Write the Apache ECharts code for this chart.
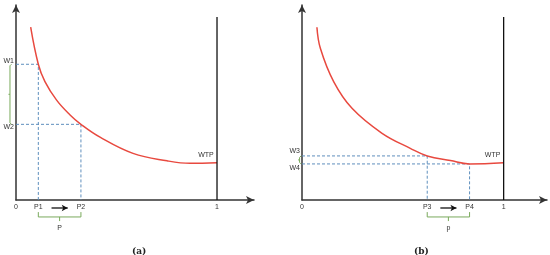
<!DOCTYPE html>
<html>
<head>
<meta charset="utf-8">
<script src="https://cdn.jsdelivr.net/npm/echarts@6/dist/echarts.min.js"></script>
<style>
  html, body { margin: 0; padding: 0; background: #fff; }
  #main { width: 550px; height: 255px; }
</style>
</head>
<body>
<div id="main"></div>
<script>
// WTP curve, panel (a) and (b) (x: 0..1, y: 0..1 of axis height)
const curveA = [[0.073,0.886],[0.111,0.696],[0.144,0.607],[0.202,0.512],[0.269,0.436],[0.323,0.388],
  [0.418,0.322],[0.582,0.239],[0.751,0.201],[0.866,0.188],[1.0,0.191]];
const curveB = [[0.074,0.886],[0.091,0.778],[0.157,0.607],[0.248,0.470],[0.397,0.342],
  [0.537,0.265],[0.621,0.226],[0.736,0.202],[0.831,0.185],[1.0,0.191]];

// marked points [p, w]
const pointsA = [[0.111, 0.696], [0.323, 0.388]];
const pointsB = [[0.621, 0.226], [0.831, 0.185]];

const xTicksA = [0, 0.111, 0.323, 1];
const xLabelsA = ['0', 'P1', 'P2', '1'];
const xTicksB = [0, 0.621, 0.831, 1];
const xLabelsB = ['0', 'P3', 'P4', '1'];
const yTicksA = [0.696, 0.388];
const yLabelsA = ['{up|W1}', '{dn|W2}'];
const yTicksB = [0.226, 0.185];
const yLabelsB = ['{up2|W3}', '{dn2|W4}'];

const wallTop = 0.938;
const bracketLabelA = 'P';
const bracketLabelB = 'p';

const font = 'Liberation Sans';
const axisColor = '#333';
const red = '#e8493f';
const blue = '#5e8fbd';
const green = '#7aaa5c';

function xAxisOf(idx, max, ticks, labels) {
  return {
    type: 'value', gridIndex: idx, min: 0, max: max,
    splitLine: { show: false },
    axisTick: { show: false },
    axisLine: { lineStyle: { color: axisColor, width: 1.5 }, symbol: ['none', 'arrow'], symbolSize: [6, 8] },
    axisLabel: {
      customValues: ticks, margin: 4, fontSize: 7, color: axisColor, fontFamily: font,
      formatter: v => labels[ticks.indexOf(v)]
    }
  };
}

function yAxisOf(idx, ticks, labels) {
  return {
    type: 'value', gridIndex: idx, min: 0, max: 1,
    splitLine: { show: false },
    axisTick: { show: false },
    axisLine: { lineStyle: { color: axisColor, width: 1.5 }, symbol: ['none', 'arrow'], symbolSize: [6, 8] },
    axisLabel: {
      customValues: ticks, margin: 2, fontSize: 7, color: axisColor, fontFamily: font,
      formatter: v => labels[ticks.indexOf(v)],
      rich: {
        up: { fontSize: 7, fontFamily: font, color: axisColor, padding: [0, 0, 6, 0] },
        dn: { fontSize: 7, fontFamily: font, color: axisColor, padding: [6, 0, 0, 0] },
        up2: { fontSize: 7, fontFamily: font, color: axisColor, padding: [0, 0, 10, 0] },
        dn2: { fontSize: 7, fontFamily: font, color: axisColor, padding: [8, 0, 0, 0] }
      }
    }
  };
}

function panelSeries(idx, curve, pts, bracketLabel, sideX) {
  const s = [];
  const base = { xAxisIndex: idx, yAxisIndex: idx, type: 'line', showSymbol: false, silent: true, animation: false };
  const textStyle = { fontSize: 7, color: axisColor, fontFamily: font };
  // dashed guide lines
  pts.forEach(p => {
    s.push(Object.assign({}, base, {
      data: [[0, p[1]], [p[0], p[1]], [p[0], 0]],
      lineStyle: { color: blue, width: 1, type: [3, 2] }
    }));
  });
  // red curve
  s.push(Object.assign({}, base, {
    showSymbol: true, symbol: 'circle', symbolSize: 0,
    data: curve.map((d, i) => i === curve.length - 1 ? {
      value: d,
      label: Object.assign({ show: true, formatter: 'WTP', position: 'top', offset: [-11, 1] }, textStyle)
    } : d),
    smooth: 0.4,
    lineStyle: { color: red, width: 1.5 }
  }));
  // vertical wall at x = 1
  s.push(Object.assign({}, base, {
    data: [[1, 0], [1, wallTop]],
    lineStyle: { color: '#111', width: 1.3 }
  }));
  // arrow between the two P labels
  const p1 = pts[0][0], p2 = pts[1][0];
  const ay = -0.041;
  const a0 = p1 + (p2 - p1) * 0.31, a1 = p1 + (p2 - p1) * 0.69;
  s.push(Object.assign({}, base, {
    clip: false,
    data: [[a0, ay], { value: [a1, ay], symbol: 'arrow', symbolSize: [5, 6], symbolRotate: -90, itemStyle: { color: '#111' } }],
    showSymbol: true, symbol: 'none',
    lineStyle: { color: '#111', width: 1.3 }
  }));
  // green bracket under P's
  const b0 = -0.062, b1 = -0.087, b2 = -0.108;
  const mid = (p1 + p2) / 2;
  s.push(Object.assign({}, base, {
    clip: false,
    data: [[p1, b0], [p1, b1], [p2, b1], [p2, b0]],
    lineStyle: { color: green, width: 1 }
  }));
  s.push(Object.assign({}, base, {
    clip: false,
    showSymbol: true, symbol: 'circle', symbolSize: 0,
    data: [[mid, b1], {
      value: [mid, b2],
      label: Object.assign({ show: true, formatter: bracketLabel, position: 'bottom', distance: 4 }, textStyle)
    }],
    lineStyle: { color: green, width: 1 }
  }));
  // green bracket along the y axis between the W's
  s.push({
    type: 'custom', xAxisIndex: idx, yAxisIndex: idx, silent: true, clip: false, z: 5,
    data: [[sideX, pts[0][1], pts[1][1]]],
    encode: { x: 0, y: [1, 2] },
    renderItem: function (params, api) {
      const top = api.coord([api.value(0), api.value(1)]);
      const bot = api.coord([api.value(0), api.value(2)]);
      const my = (top[1] + bot[1]) / 2;
      return {
        type: 'group',
        children: [
          { type: 'polyline', shape: { points: [[top[0] + 1.5, top[1]], [top[0], top[1] + 1.5], [bot[0], bot[1] - 1.5], [bot[0] + 1.5, bot[1]]] },
            style: { stroke: green, lineWidth: 1, fill: null } },
          { type: 'line', shape: { x1: top[0], y1: my, x2: top[0] - 1.5, y2: my }, style: { stroke: green, lineWidth: 1 } }
        ]
      };
    }
  });
  return s;
}

const chart = echarts.init(document.getElementById('main'), null, { renderer: 'canvas' });
chart.setOption({
  backgroundColor: '#fff',
  animation: false,
  title: [
    { text: '(a)', left: 127, top: 242, textStyle: { fontSize: 9, fontWeight: 'bold', fontFamily: 'DejaVu Serif', color: '#222' } },
    { text: '(b)', left: 409, top: 242, textStyle: { fontSize: 9, fontWeight: 'bold', fontFamily: 'DejaVu Serif', color: '#222' } }
  ],
  grid: [
    { left: 16, top: 5, width: 238, height: 195, outerBoundsMode: 'none' },
    { left: 302, top: 5, width: 245, height: 195, outerBoundsMode: 'none' }
  ],
  xAxis: [xAxisOf(0, 1.184, xTicksA, xLabelsA), xAxisOf(1, 1.215, xTicksB, xLabelsB)],
  yAxis: [yAxisOf(0, yTicksA, yLabelsA), yAxisOf(1, yTicksB, yLabelsB)],
  series: panelSeries(0, curveA, pointsA, bracketLabelA, -0.03).concat(panelSeries(1, curveB, pointsB, bracketLabelB, -0.012))
});
</script>
</body>
</html>
